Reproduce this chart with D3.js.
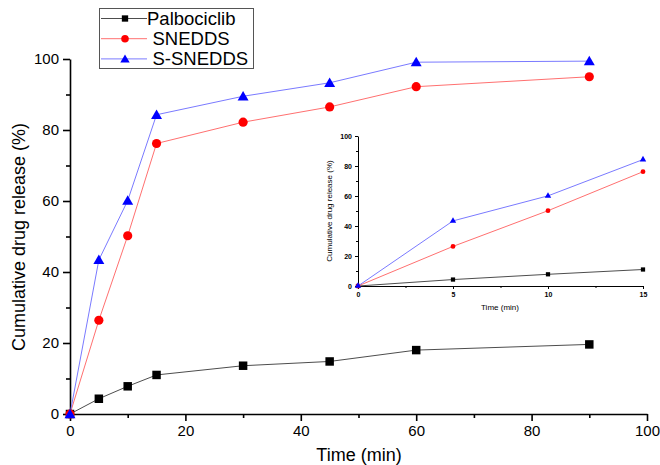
<!DOCTYPE html>
<html>
<head>
<meta charset="utf-8">
<script src="https://cdn.jsdelivr.net/npm/d3@7"></script>
<style>
  body { margin: 0; background: #fff; }
  svg { font-family: "Liberation Sans", Arial, sans-serif; }
</style>
</head>
<body>
<div id="chart"></div>
<script>
// data
var times = [0, 5, 10, 15, 30, 45, 60, 90];
var palbociclib = [0, 4.3, 7.8, 11.0, 13.6, 14.8, 18.0, 19.6];
var snedds = [0, 26.4, 50.2, 76.2, 82.2, 86.5, 92.2, 95.0];
var ssnedds = [0, 43.4, 60.1, 84.3, 89.5, 93.3, 99.1, 99.4];
var series_names = ['Palbociclib', 'SNEDDS', 'S-SNEDDS'];
var x_ticks = [0, 20, 40, 60, 80, 100];
var y_ticks = [0, 20, 40, 60, 80, 100];
var inset_x_ticks = [0, 5, 10, 15];
var inset_y_ticks = [0, 20, 40, 60, 80, 100];

var width = 660, height = 465;
var svg = d3.select('#chart').append('svg')
    .attr('width', width)
    .attr('height', height);

var series = [
    {name: series_names[0], values: palbociclib, line: '#4d4d4d', fill: '#000', shape: d3.symbolSquare, size: 72, lsize: 40, dy: 0},
    {name: series_names[1], values: snedds, line: '#ff7070', fill: '#ff0000', shape: d3.symbolCircle, size: 66, lsize: 45, dy: 0},
    {name: series_names[2], values: ssnedds, line: '#7a7aff', fill: '#0000ff', shape: d3.symbolTriangle, size: 52, lsize: 38, dy: 1}
];

// main plot
var x = d3.scaleLinear().domain([0, 100]).range([70, 647]);
var y = d3.scaleLinear().domain([0, 100]).range([414, 59]);

function draw_axes(g, xs, ys, xt, yt, xminor, yminor, opt) {
    // minor ticks
    g.append('g').attr('transform', 'translate(0,' + ys.range()[0] + ')')
        .call(d3.axisBottom(xs).tickValues(xminor).tickSize(opt.minor).tickFormat(''))
        .call(function(a) { a.select('.domain').remove(); a.selectAll('line').attr('stroke-width', opt.sw); });
    g.append('g').attr('transform', 'translate(' + xs.range()[0] + ',0)')
        .call(d3.axisLeft(ys).tickValues(yminor).tickSize(opt.minor).tickFormat(''))
        .call(function(a) { a.select('.domain').remove(); a.selectAll('line').attr('stroke-width', opt.sw); });

    let xa = g.append('g').attr('transform', 'translate(0,' + ys.range()[0] + ')')
        .call(d3.axisBottom(xs).tickValues(xt).tickSizeInner(opt.major).tickSizeOuter(0).tickPadding(opt.pad));
    let ya = g.append('g').attr('transform', 'translate(' + xs.range()[0] + ',0)')
        .call(d3.axisLeft(ys).tickValues(yt).tickSizeInner(opt.major).tickSizeOuter(0).tickPadding(opt.pad));
    [xa, ya].forEach(function(a) {
        a.select('.domain').attr('stroke-width', opt.sw);
        a.selectAll('line').attr('stroke-width', opt.sw);
        a.selectAll('text')
            .attr('font-size', opt.font)
            .attr('font-weight', opt.weight)
            .attr('fill', '#000')
            .attr('font-family', '"Liberation Sans", Arial, sans-serif');
    });
}

var main = svg.append('g');
draw_axes(main, x, y, x_ticks, y_ticks,
    [10, 30, 50, 70, 90], [10, 30, 50, 70, 90],
    {major: 7, minor: 4, pad: 4, font: 15, weight: 'normal', sw: 1.6});

var line = d3.line()
    .x(function(d, i) { return x(times[i]); })
    .y(function(d) { return y(d); });

series.forEach(function(s) {
    main.append('path')
        .attr('d', line(s.values))
        .attr('fill', 'none')
        .attr('stroke', s.line)
        .attr('stroke-width', 1);
});
series.forEach(function(s) {
    main.selectAll(null)
        .data(s.values)
        .enter().append('path')
        .attr('transform', function(d, i) {
            return 'translate(' + x(times[i]) + ',' + (y(d) + s.dy) + ')';
        })
        .attr('d', d3.symbol().type(s.shape).size(s.size))
        .attr('fill', s.fill);
});

main.append('text')
    .attr('x', 359).attr('y', 461)
    .attr('text-anchor', 'middle')
    .attr('font-size', 18)
    .text('Time (min)');
main.append('text')
    .attr('transform', 'translate(25,237) rotate(-90)')
    .attr('text-anchor', 'middle')
    .attr('font-size', 18)
    .text('Cumulative drug release (%)');

// legend
var legend = svg.append('g');
legend.append('rect')
    .attr('x', 99.5).attr('y', 8.5)
    .attr('width', 154).attr('height', 60)
    .attr('fill', '#fff')
    .attr('stroke', '#555')
    .attr('stroke-width', 1);
series.forEach(function(s, i) {
    let ly = 18.5 + i * 20.2;
    legend.append('line')
        .attr('x1', 101).attr('x2', 147)
        .attr('y1', ly).attr('y2', ly)
        .attr('stroke', s.line).attr('stroke-width', 1);
    legend.append('path')
        .attr('transform', 'translate(125,' + (ly + s.dy) + ')')
        .attr('d', d3.symbol().type(s.shape).size(s.lsize))
        .attr('fill', s.fill);
    legend.append('text')
        .attr('x', i === 0 ? 147 : 152.5).attr('y', ly + 6.5)
        .attr('font-size', 18.5)
        .text(s.name);
});

// inset
var ix = d3.scaleLinear().domain([0, 15]).range([358, 643]);
var iy = d3.scaleLinear().domain([0, 100]).range([286, 136]);
var inset = svg.append('g');
draw_axes(inset, ix, iy, inset_x_ticks, inset_y_ticks,
    [2.5, 7.5, 12.5], [10, 30, 50, 70, 90],
    {major: 3, minor: 2, pad: 3, font: 7, weight: 'bold', sw: 1});

var inset_times = times.slice(0, 4);
var iline = d3.line()
    .x(function(d, i) { return ix(inset_times[i]); })
    .y(function(d) { return iy(d); });
series.forEach(function(s) {
    let vals = s.values.slice(0, 4);
    inset.append('path')
        .attr('d', iline(vals))
        .attr('fill', 'none')
        .attr('stroke', s.line)
        .attr('stroke-width', 1);
    inset.selectAll(null)
        .data(vals)
        .enter().append('path')
        .attr('transform', function(d, i) { return 'translate(' + ix(inset_times[i]) + ',' + iy(d) + ')'; })
        .attr('d', d3.symbol().type(s.shape).size(18))
        .attr('fill', s.fill);
});
inset.append('text')
    .attr('x', 500).attr('y', 310)
    .attr('text-anchor', 'middle')
    .attr('font-size', 8)
    .text('Time (min)');
inset.append('text')
    .attr('transform', 'translate(332,211) rotate(-90)')
    .attr('text-anchor', 'middle')
    .attr('font-size', 8)
    .text('Cumulative drug release (%)');
</script>
</body>
</html>
